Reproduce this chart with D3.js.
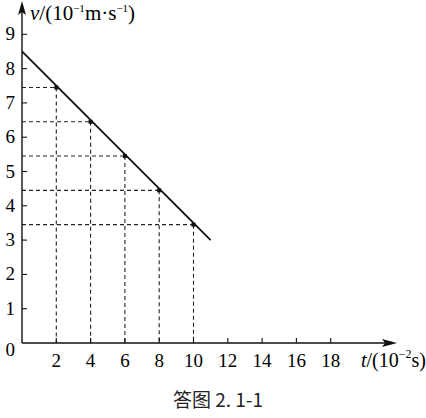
<!DOCTYPE html>
<html>
<head>
<meta charset="utf-8">
<script src="https://cdn.jsdelivr.net/npm/d3@7"></script>
<style>
  body { margin: 0; background: #fff; }
</style>
</head>
<body>
<div class="chart"></div>
<script>
// DATA ------------------------------
const times = [2, 4, 6, 8, 10];
const speeds = [7.45, 6.45, 5.45, 4.45, 3.45];
const fitT = [0, 11];
const fitV = [8.5, 3.0];
const xTicks = [2, 4, 6, 8, 10, 12, 14, 16, 18];
const yTicks = [1, 2, 3, 4, 5, 6, 7, 8, 9];

// CHART INIT ------------------------------
const W = 426, H = 418;
const ox = 22, oy = 343;
const serif = "'Liberation Serif', 'Times New Roman', 'DejaVu Serif', serif";

const svg = d3.select('.chart').append('svg')
  .attr('width', W).attr('height', H)
  .attr('font-family', serif);

const xScale = d3.scaleLinear().domain([0, 20]).range([ox, ox + 343]);
const yScale = d3.scaleLinear().domain([0, 9]).range([oy, oy - 9 * 34.3]);

const data = times.map((t, i) => ({ t: t, v: speeds[i] }));

// dashed guide lines
const guides = svg.append('g')
  .attr('stroke', '#222').attr('stroke-width', 1.1)
  .attr('stroke-dasharray', '4,3');
guides.selectAll('.h').data(data).enter().append('line')
  .attr('x1', xScale(0)).attr('x2', (d) => xScale(d.t))
  .attr('y1', (d) => yScale(d.v)).attr('y2', (d) => yScale(d.v));
guides.selectAll('.v').data(data).enter().append('line')
  .attr('x1', (d) => xScale(d.t)).attr('x2', (d) => xScale(d.t))
  .attr('y1', (d) => yScale(d.v)).attr('y2', yScale(0));

// axes
const axes = svg.append('g').attr('stroke', '#111').attr('stroke-width', 1.4);
axes.append('line').attr('x1', ox).attr('y1', oy).attr('x2', 388).attr('y2', oy);
axes.append('line').attr('x1', ox).attr('y1', oy).attr('x2', ox).attr('y2', 8);
svg.append('path').attr('d', `M397,${oy} L382,${oy - 4} L385,${oy} L382,${oy + 4} Z`).attr('fill', '#111');
svg.append('path').attr('d', `M${ox},1 L${ox - 4},15 L${ox},12 L${ox + 4},15 Z`).attr('fill', '#111');

// ticks
axes.selectAll('.xt').data(xTicks).enter().append('line')
  .attr('x1', (d) => xScale(d)).attr('x2', (d) => xScale(d))
  .attr('y1', oy).attr('y2', oy - 5).attr('stroke-width', 1.1);
axes.selectAll('.yt').data(yTicks).enter().append('line')
  .attr('x1', ox).attr('x2', ox + 5)
  .attr('y1', (d) => yScale(d)).attr('y2', (d) => yScale(d)).attr('stroke-width', 1.1);

// tick labels
svg.selectAll('.xl').data(xTicks).enter().append('text')
  .attr('x', (d) => xScale(d)).attr('y', oy + 24)
  .attr('text-anchor', 'middle').attr('font-size', 19)
  .text((d) => d);
svg.selectAll('.yl').data(yTicks).enter().append('text')
  .attr('x', 15).attr('y', (d) => yScale(d) + 6)
  .attr('text-anchor', 'end').attr('font-size', 19)
  .text((d) => d);
svg.append('text').attr('x', 15).attr('y', oy + 13)
  .attr('text-anchor', 'end').attr('font-size', 19).text('0');

// fitted line
svg.append('line')
  .attr('x1', xScale(fitT[0])).attr('y1', yScale(fitV[0]))
  .attr('x2', xScale(fitT[1])).attr('y2', yScale(fitV[1]))
  .attr('stroke', '#111').attr('stroke-width', 1.8);

// data points
svg.selectAll('.pt').data(data).enter().append('rect')
  .attr('x', (d) => xScale(d.t) - 2).attr('y', (d) => yScale(d.v) - 2)
  .attr('width', 4).attr('height', 4).attr('fill', '#111');

// axis titles
const yt = svg.append('text').attr('x', 30).attr('y', 20).attr('font-size', 21);
yt.append('tspan').attr('font-style', 'italic').text('v');
yt.append('tspan').text('/(10');
yt.append('tspan').attr('font-size', 11).attr('dy', -8).text('−1');
yt.append('tspan').attr('dy', 8).text('m·s');
yt.append('tspan').attr('font-size', 11).attr('dy', -8).text('−1');
yt.append('tspan').attr('dy', 8).text(')');

const xt = svg.append('text').attr('x', 361).attr('y', oy + 24).attr('font-size', 20);
xt.append('tspan').attr('font-style', 'italic').text('t');
xt.append('tspan').text('/(10');
xt.append('tspan').attr('font-size', 12).attr('dy', -9).text('−2');
xt.append('tspan').attr('dy', 9).text('s)');

// caption
svg.append('text').attr('x', 218).attr('y', 407)
  .attr('text-anchor', 'middle').attr('font-size', 19)
  .attr('font-family', "'Noto Sans CJK SC', sans-serif")
  .attr('fill', '#222')
  .text('答图 2. 1-1');
</script>
</body>
</html>
